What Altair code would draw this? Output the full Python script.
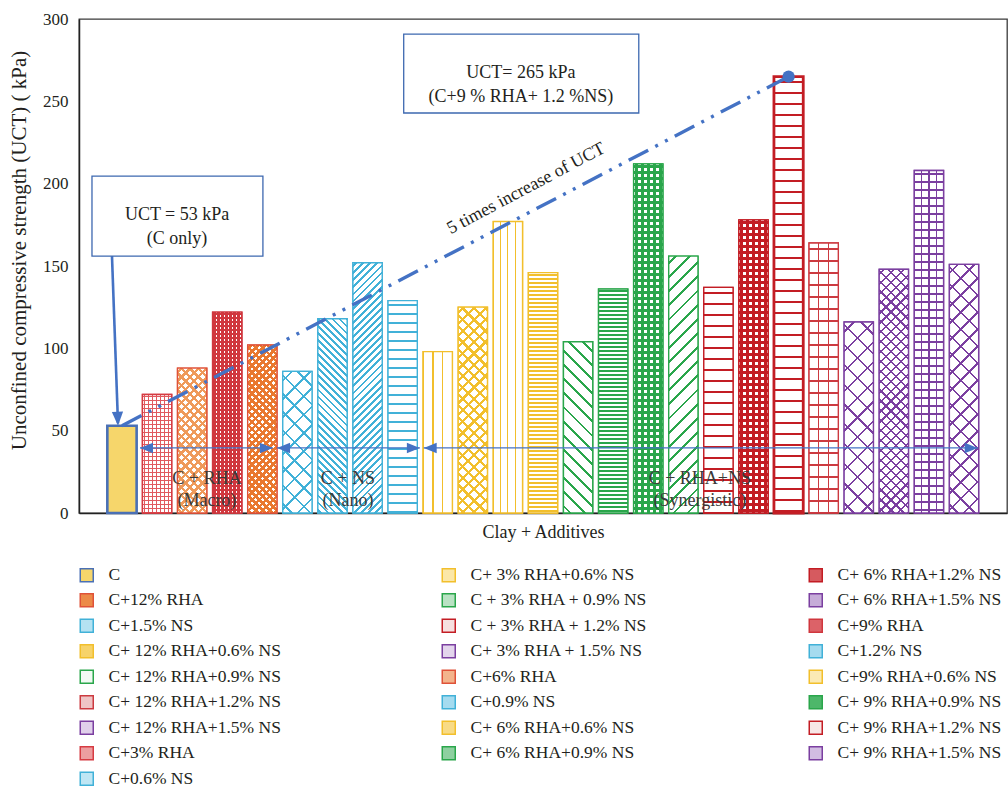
import math
import altair as alt

# ---------------- data ----------------
labels = [
    "C", "C+3% RHA", "C+6% RHA", "C+9% RHA", "C+12% RHA",
    "C+0.6% NS", "C+0.9% NS", "C+1.2% NS", "C+1.5% NS",
    "C+ 3% RHA+0.6% NS", "C+ 6% RHA+0.6% NS", "C+9% RHA+0.6% NS", "C+ 12% RHA+0.6% NS",
    "C + 3% RHA + 0.9% NS", "C+ 6% RHA+0.9% NS", "C+ 9% RHA+0.9% NS", "C+ 12% RHA+0.9% NS",
    "C + 3% RHA + 1.2% NS", "C+ 6% RHA+1.2% NS", "C+ 9% RHA+1.2% NS", "C+ 12% RHA+1.2% NS",
    "C+ 3% RHA + 1.5% NS", "C+ 6% RHA+1.5% NS", "C+ 9% RHA+1.5% NS", "C+ 12% RHA+1.5% NS",
]
ucs_kpa = [53, 72, 88, 122, 102, 86, 118, 152, 129, 98, 125, 177, 146,
           104, 136, 212, 156, 137, 178, 265, 164, 116, 148, 208, 151]

legend_columns = [
    ["C", "C+12% RHA", "C+1.5% NS", "C+ 12% RHA+0.6% NS", "C+ 12% RHA+0.9% NS",
     "C+ 12% RHA+1.2% NS", "C+ 12% RHA+1.5% NS", "C+3% RHA", "C+0.6% NS"],
    ["C+ 3% RHA+0.6% NS", "C + 3% RHA + 0.9% NS", "C + 3% RHA + 1.2% NS", "C+ 3% RHA + 1.5% NS",
     "C+6% RHA", "C+0.9% NS", "C+ 6% RHA+0.6% NS", "C+ 6% RHA+0.9% NS"],
    ["C+ 6% RHA+1.2% NS", "C+ 6% RHA+1.5% NS", "C+9% RHA", "C+1.2% NS",
     "C+9% RHA+0.6% NS", "C+ 9% RHA+0.9% NS", "C+ 9% RHA+1.2% NS", "C+ 9% RHA+1.5% NS"],
]
y_ticks = [0, 50, 100, 150, 200, 250, 300]

group_names = ["C + RHA\n(Macro)", "C + NS\n(Nano)", "C + RHA+NS\n(Synergistic)"]

# ---------------- layout ----------------
FONT = "Liberation Serif"
INK = "#231F20"
BLUE = "#4472C4"
W, H = 928, 494
Y_MAX = 300
X_LO, X_HI = -1.225, 25.225          # x in bar-index units
BAR_W = 0.835
PX_X = W / (X_HI - X_LO)
PX_Y = H / Y_MAX
BAR_PX = BAR_W * PX_X
CLEAR = "rgba(255,255,255,0)"

RED_RHA = "#D63B42"
ORANGE_EDGE = "#DF5238"
CYAN = "#41B1D8"
YELLOW = "#F2BF2C"
GREEN = "#2AA64B"
RED = "#C31D24"
PURPLE = "#7B3FA0"

# hatch layers: (direction, period px, ink fraction[, phase])
style = {
    "C": dict(stroke="#4A70B5", sw=2.6, ink="#F6D66B", swatch="#F6D66B", layers=[]),
    "C+3% RHA": dict(stroke=RED_RHA, sw=1.4, ink="#E05A5F", swatch="#EC9EA0",
                     layers=[("h", 4, 0.45), ("v", 4, 0.45)]),
    "C+6% RHA": dict(stroke=ORANGE_EDGE, sw=1.4, ink="#EF9A5A", swatch="#F3B48C",
                     layers=[("d1", 6, 0.4), ("d2", 6, 0.4)]),
    "C+9% RHA": dict(stroke="#D0373E", sw=1.4, ink="#D0373E", swatch="#DC6268",
                     layers=[("h", 4, 0.6), ("v", 4, 0.6)]),
    "C+12% RHA": dict(stroke=ORANGE_EDGE, sw=1.4, ink="#E9782F", swatch="#EC8A48",
                      layers=[("d1", 5, 0.5), ("d2", 5, 0.5)]),
    "C+0.6% NS": dict(stroke=CYAN, sw=1.4, ink=CYAN, swatch="#BFE6F4",
                      layers=[("d1", 13, 0.14), ("d2", 13, 0.14)]),
    "C+0.9% NS": dict(stroke=CYAN, sw=1.4, ink=CYAN, swatch="#A5DBEF", layers=[("d2", 5, 0.4)]),
    "C+1.2% NS": dict(stroke=CYAN, sw=1.4, ink=CYAN, swatch="#A5DBEF", layers=[("d1", 5, 0.4)]),
    "C+1.5% NS": dict(stroke=CYAN, sw=1.4, ink=CYAN, swatch="#B5E2F2", layers=[("h", 9, 0.22)]),
    "C+ 3% RHA+0.6% NS": dict(stroke=YELLOW, sw=1.4, ink=YELLOW, swatch="#FBE7A8",
                              layers=[("v", BAR_PX / 3, 0.14, 0)]),
    "C+ 6% RHA+0.6% NS": dict(stroke=YELLOW, sw=1.4, ink=YELLOW, swatch="#F8DB86",
                              layers=[("d1", 8, 0.28), ("d2", 8, 0.28)]),
    "C+9% RHA+0.6% NS": dict(stroke=YELLOW, sw=1.4, ink=YELLOW, swatch="#FBEAB4",
                             layers=[("v", BAR_PX / 4, 0.12, 0)]),
    "C+ 12% RHA+0.6% NS": dict(stroke=YELLOW, sw=1.4, ink=YELLOW, swatch="#F7D36A",
                               layers=[("h", 4, 0.5)]),
    "C + 3% RHA + 0.9% NS": dict(stroke=GREEN, sw=1.4, ink=GREEN, swatch="#B9E2C3",
                                 layers=[("d2", 10, 0.2)]),
    "C+ 6% RHA+0.9% NS": dict(stroke=GREEN, sw=1.4, ink=GREEN, swatch="#8ED0A0",
                              layers=[("h", 4, 0.5)]),
    "C+ 9% RHA+0.9% NS": dict(stroke=GREEN, sw=1.4, ink=GREEN, swatch="#4DB76A",
                              layers=[("h", 6, 0.5), ("v", 6, 0.5)]),
    "C+ 12% RHA+0.9% NS": dict(stroke=GREEN, sw=1.4, ink=GREEN, swatch="#F2FAF4",
                               layers=[("d1", 10, 0.2)]),
    "C + 3% RHA + 1.2% NS": dict(stroke=RED, sw=1.4, ink=RED, swatch="#F6E0E0",
                                 layers=[("h", 11, 0.2)]),
    "C+ 6% RHA+1.2% NS": dict(stroke=RED, sw=1.4, ink=RED, swatch="#D65A5F",
                              layers=[("h", 6, 0.5), ("v", 6, 0.5)]),
    "C+ 9% RHA+1.2% NS": dict(stroke=RED, sw=2.8, ink=RED, swatch="#F7E6E6",
                              layers=[("h", 11, 0.15)]),
    "C+ 12% RHA+1.2% NS": dict(stroke="#CC3A40", sw=1.4, ink="#CC3A40", swatch="#EFC4C5",
                               layers=[("h", 12, 0.1), ("v", BAR_PX / 3, 0.08, 0)]),
    "C+ 3% RHA + 1.5% NS": dict(stroke=PURPLE, sw=1.4, ink=PURPLE, swatch="#E3D5EC",
                                layers=[("d1", 14, 0.12), ("d2", 14, 0.12)]),
    "C+ 6% RHA+1.5% NS": dict(stroke=PURPLE, sw=1.4, ink=PURPLE, swatch="#C6ACD8",
                              layers=[("d1", 7, 0.22), ("d2", 7, 0.22)]),
    "C+ 9% RHA+1.5% NS": dict(stroke=PURPLE, sw=1.4, ink=PURPLE, swatch="#D2BDE2",
                              layers=[("h", 8, 0.25), ("v", BAR_PX / 4, 0.18, 0)]),
    "C+ 12% RHA+1.5% NS": dict(stroke=PURPLE, sw=1.4, ink=PURPLE, swatch="#E0D0EA",
                               layers=[("d1", 12, 0.14), ("d2", 12, 0.14)]),
}


def stripes(kind, period, frac, ink, bg, w, h, phase=0.5):
    """Linear gradient with hard stops that reads as a hatch inside a w x h box."""
    if kind == "h":
        length, geo = h, dict(x1=0, y1=0, x2=0, y2=1)
    elif kind == "v":
        length, geo = w, dict(x1=0, y1=0, x2=1, y2=0)
    else:
        k = (w + h) / (w * w + h * h)
        p, q = k * w, k * h
        length = (w + h) / math.sqrt(2)
        if kind == "d1":
            geo = dict(x1=0, y1=0, x2=round(p, 5), y2=round(q, 5))
        else:
            geo = dict(x1=0, y1=1, x2=round(p, 5), y2=round(1 - q, 5))
    stops = [dict(offset=0, color=bg)]
    half = frac * period / 2
    j = 0
    while True:
        c = (j + phase) * period
        a, b = (c - half) / length, (c + half) / length
        if a >= 1:
            break
        a, b = round(max(a, 0.0), 5), round(min(b, 1.0), 5)
        if b > a:
            stops += [dict(offset=a, color=bg), dict(offset=a, color=ink),
                      dict(offset=b, color=ink), dict(offset=b, color=bg)]
        j += 1
    stops.append(dict(offset=1, color=bg))
    return dict(gradient="linear", stops=stops, **geo)


rows = []
for i, (lab, v) in enumerate(zip(labels, ucs_kpa)):
    st = style[lab]
    h_px = v * PX_Y
    lay = st["layers"]
    if lay:
        p1 = stripes(lay[0][0], lay[0][1], lay[0][2], st["ink"], "#FFFFFF", BAR_PX, h_px,
                     *(lay[0][3:]))
        p2 = (stripes(lay[1][0], lay[1][1], lay[1][2], st["ink"], CLEAR, BAR_PX, h_px,
                      *(lay[1][3:])) if len(lay) > 1 else "transparent")
    else:
        p1, p2 = st["ink"], "transparent"
    rows.append(dict(label=lab, idx=i, ucs=v, p1=p1, p2=p2, sc=st["stroke"], sw=st["sw"]))

# legend entries go row by row (three per row), so list them in that order
legend_order = []
for r in range(max(len(c) for c in legend_columns)):
    for col in legend_columns:
        if r < len(col):
            legend_order.append(col[r])

x_scale = alt.Scale(domain=[X_LO, X_HI], nice=False, zero=False)
y_scale = alt.Scale(domain=[0, Y_MAX], nice=False, zero=True)

x_axis = alt.Axis(title="Clay + Additives", labels=False, ticks=False, grid=False,
                  domainColor="#222222", domainWidth=1.5, titleFont=FONT, titleFontSize=18,
                  titleFontWeight="normal", titleColor=INK, titlePadding=10)
y_axis = alt.Axis(title="Unconfined compressive strength (UCT) ( kPa)", values=y_ticks,
                  ticks=False, tickSize=0, grid=False, domainColor="#222222", domainWidth=1.5,
                  labelFont=FONT, labelFontSize=17, labelColor=INK, labelPadding=11,
                  titleFont=FONT, titleFontSize=21, titleFontWeight="normal",
                  titleColor=INK, titlePadding=13, titleY=231)


def xq(field):
    return alt.X(f"{field}:Q", scale=x_scale, axis=x_axis)


def yq(field):
    return alt.Y(f"{field}:Q", scale=y_scale, axis=y_axis)


bars_src = alt.Chart(alt.Data(values=rows)).transform_calculate(
    xl=f"datum.idx - {BAR_W / 2}", xr=f"datum.idx + {BAR_W / 2}"
)

legend = alt.Legend(
    title=None, orient="none", legendX=-1, legendY=547, columns=3, direction="horizontal",
    symbolType="square", symbolSize=169, symbolStrokeWidth=1.5,
    labelFont=FONT, labelFontSize=17.5, labelColor=INK, labelOffset=13, labelLimit=0,
    rowPadding=5.5, columnPadding=158, gridAlign="each",
)

base = bars_src.mark_bar(strokeWidth=1.3).encode(
    x=xq("xl"), x2="xr:Q", y=yq("ucs"), y2=alt.datum(0),
    fill=alt.Fill("label:N", legend=legend, scale=alt.Scale(
        domain=legend_order, range=[style[k]["swatch"] for k in legend_order])),
    stroke=alt.Stroke("label:N", legend=legend, scale=alt.Scale(
        domain=legend_order, range=[style[k]["stroke"] for k in legend_order])),
)


def hatch_layer(field):
    return bars_src.mark_bar(strokeWidth=0).encode(
        x=xq("xl"), x2="xr:Q", y=yq("ucs"), y2=alt.datum(0),
        fill=alt.Fill(f"{field}:N", scale=None, legend=None),
    )


outline = bars_src.mark_bar(fillOpacity=0).encode(
    x=xq("xl"), x2="xr:Q", y=yq("ucs"), y2=alt.datum(0),
    stroke=alt.Stroke("sc:N", scale=None, legend=None),
    strokeWidth=alt.StrokeWidth("sw:Q", scale=None, legend=None),
)

# ---------------- annotations ----------------
i_c = labels.index("C")
i_top = labels.index("C+ 9% RHA+1.2% NS")

# dash-dot-dot trend from the clay-only bar to the strongest mix
trend_pts = [dict(x=i_c, y=ucs_kpa[i_c]), dict(x=i_top, y=ucs_kpa[i_top])]
trend = alt.Chart(alt.Data(values=trend_pts)).mark_line(
    color=BLUE, strokeWidth=3.4, strokeDash=[22, 8, 3, 8, 3, 8]
).encode(x=xq("x"), y=yq("y"))
peak = alt.Chart(alt.Data(values=[trend_pts[1]])).mark_circle(
    color=BLUE, size=150, opacity=1
).encode(x=xq("x"), y=yq("y"))

trend_note = alt.Chart(alt.Data(values=[dict(x=11.52, y=197, t="5 times increase of UCT")])).mark_text(
    font=FONT, fontSize=18, color=INK, angle=332, align="center", baseline="middle"
).encode(x=xq("x"), y=yq("y"), text="t:N")

# call-out boxes
boxes = [
    dict(x0=-0.855, x1=4.017, y0=156, y1=204.6, tx=1.57, ty=181,
         t=f"UCT = {ucs_kpa[i_c]} kPa\n(C only)"),
    dict(x0=8.03, x1=14.73, y0=242.9, y1=290.8, tx=11.37, ty=267.5,
         t=f"UCT= {ucs_kpa[i_top]} kPa\n(C+9 % RHA+ 1.2 %NS)"),
]
box_rect = alt.Chart(alt.Data(values=boxes)).mark_rect(
    fill="white", stroke="#3D68B0", strokeWidth=1.3
).encode(x=xq("x0"), x2="x1:Q", y=yq("y0"), y2="y1:Q")
box_text = alt.Chart(alt.Data(values=boxes)).mark_text(
    font=FONT, fontSize=18, color=INK, lineBreak="\n", lineHeight=24,
    align="center", baseline="middle"
).encode(x=xq("tx"), y=yq("ty"), text="t:N")

# pointer from the first call-out down to the clay-only bar
pointer_pts = [dict(x=-0.285, y=156), dict(x=i_c - 0.114, y=ucs_kpa[i_c] + 1.5)]
pointer = alt.Chart(alt.Data(values=pointer_pts)).mark_line(
    color=BLUE, strokeWidth=2.6
).encode(x=xq("x"), y=yq("y"))
pointer_head = alt.Chart(alt.Data(values=[dict(x=i_c - 0.114, y=ucs_kpa[i_c])])).mark_point(
    shape="M0,0L-0.8,-2L0.8,-2Z", filled=True, color=BLUE, opacity=1, size=196, angle=358
).encode(x=xq("x"), y=yq("y"))

# group spans along the bottom
spans = [dict(a=0.513, b=4.30, y=39.5), dict(a=4.42, b=8.49, y=39.5),
         dict(a=8.60, b=24.39, y=39.5)]
span_rule = alt.Chart(alt.Data(values=spans)).mark_rule(
    color=BLUE, strokeWidth=1.2
).encode(x=xq("a"), x2="b:Q", y=yq("y"))
span_left = alt.Chart(alt.Data(values=spans)).mark_point(
    shape="M0,0L2,-0.8L2,0.8Z", filled=True, color=BLUE, opacity=1, size=169
).encode(x=xq("a"), y=yq("y"))
span_right = alt.Chart(alt.Data(values=spans)).mark_point(
    shape="M0,0L-2,-0.8L-2,0.8Z", filled=True, color=BLUE, opacity=1, size=169
).encode(x=xq("b"), y=yq("y"))

group_pos = [2.42, 6.44, 16.47]
groups = [dict(x=gx, y=20.6, t=g) for gx, g in zip(group_pos, group_names)]
group_text = alt.Chart(alt.Data(values=groups)).mark_text(
    font=FONT, fontSize=18, color="#3A3A3A", lineBreak="\n", lineHeight=22,
    align="center", baseline="middle"
).encode(x=xq("x"), y=yq("y"), text="t:N")

chart = alt.layer(
    base, hatch_layer("p1"), hatch_layer("p2"), outline,
    span_rule, span_left, span_right, group_text,
    trend, peak, trend_note, pointer, pointer_head, box_rect, box_text,
).properties(
    width=W, height=H,
    autosize=alt.AutoSizeParams(type="none"),
    padding={"left": 79, "top": 19, "right": 1, "bottom": 275},
    background="white",
).configure_view(stroke="#3A3A3A", strokeWidth=1.3)

chart.save("out.html", embed_options={"renderer": "svg", "actions": False})
